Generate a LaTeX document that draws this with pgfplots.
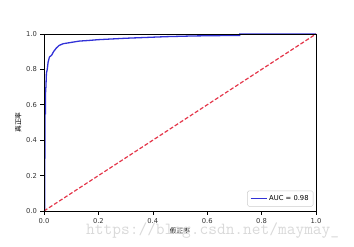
\documentclass[border=0pt]{standalone}
\usepackage{fontspec}
\setmainfont{DejaVu Sans}
\newfontfamily\cjk{Noto Sans CJK SC}
\usepackage{pgfplots}
\pgfplotsset{compat=1.18}
\definecolor{rocblue}{RGB}{50,50,215}
\definecolor{diagred}{RGB}{228,55,75}
\begin{document}
\begin{tikzpicture}
\useasboundingbox (-44bp,-36bp) rectangle (310bp,211bp);
\begin{axis}[
  scale only axis, width=272bp, height=177bp,
  xmin=0, xmax=1, ymin=0, ymax=1,
  xtick={0,0.2,0.4,0.6,0.8,1.0}, ytick={0,0.2,0.4,0.6,0.8,1.0},
  xticklabel style={/pgf/number format/.cd,fixed,fixed zerofill,precision=1},
  yticklabel style={/pgf/number format/.cd,fixed,fixed zerofill,precision=1},
  /pgf/number format/assume math mode=true,
  ticklabel style={font=\fontsize{6.8}{8}\selectfont, text=black!80},
  tick align=outside, tick pos=left,
  major tick length=3.5bp,
  every tick/.style={black, line width=0.6bp},
  axis line style={black, line width=0.7bp},
  axis on top,
  xlabel={\cjk 假正率}, ylabel={\cjk 真正率},
  label style={font=\fontsize{6.8}{8}\selectfont},
  xlabel style={yshift=2bp},
  ylabel style={yshift=-2bp},
  legend style={font=\fontsize{6.8}{8}\selectfont, draw=black!20, rounded corners=1.5bp,
    inner xsep=2.5bp, inner ysep=2.5bp, at={(0.99,0.025)}, anchor=south east},
  legend cell align=left,
  legend image code/.code={\draw[#1, line width=1.3bp] (0bp,0bp) -- (16bp,0bp);},
]
\addplot[rocblue, line width=1.3bp] coordinates {
(0.003,0) (0.003,0.3) (0.004,0.3) (0.004,0.55) (0.005,0.55) (0.005,0.65) (0.007,0.7) (0.009,0.78)
(0.012,0.8) (0.015,0.84) (0.02,0.87) (0.028,0.88) (0.035,0.9) (0.045,0.92) (0.055,0.935)
(0.07,0.945) (0.09,0.95) (0.11,0.955) (0.13,0.96) (0.16,0.963) (0.2,0.968) (0.25,0.972)
(0.3,0.976) (0.35,0.979) (0.4,0.982) (0.45,0.985) (0.5,0.987) (0.55,0.989) (0.6,0.99)
(0.65,0.991) (0.72,0.992) (0.72,1) (1,1)
};
\addlegendentry{AUC = 0.98}
\addplot[diagred, dash pattern=on 4bp off 2bp, line width=1.2bp, forget plot] coordinates {(0,0) (1,1)};
\end{axis}
\node[anchor=base west, inner sep=0, text=black!15, font=\ttfamily\fontsize{17}{17}\selectfont] at (42bp,-23bp) {https://blog.csdn.net/maymay\_};
\end{tikzpicture}
\end{document}
